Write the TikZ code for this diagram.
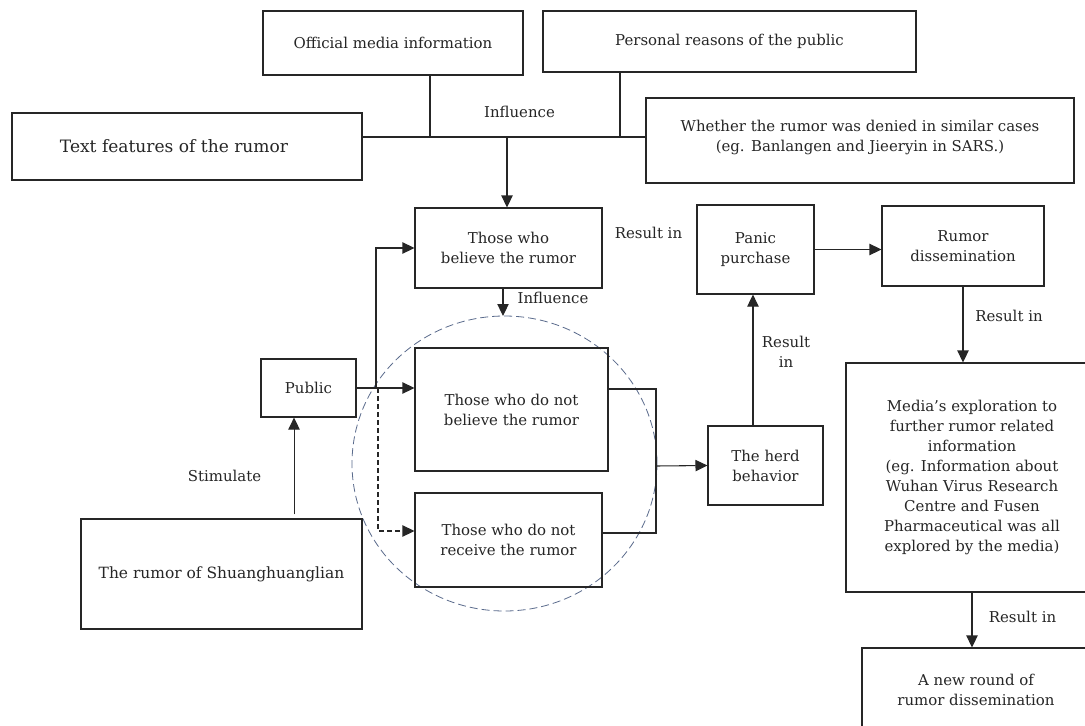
\documentclass[tikz,border=0pt]{standalone}
\usepackage{fontspec}
\setmainfont{DejaVu Serif}
\usetikzlibrary{arrows.meta,shapes.geometric}
\definecolor{lin}{HTML}{262626}
\definecolor{circ}{HTML}{5A6B8C}
\tikzset{
  box/.style 2 args={draw=lin, line width=0.8pt, rectangle, inner sep=0pt,
    minimum width=#1*0.75pt, minimum height=#2*0.75pt, align=center,
    font=\fontsize{11.2}{15}\selectfont, text=black!85},
  lbl/.style={inner sep=0pt, align=center, font=\fontsize{11.2}{15}\selectfont, text=black!85},
  conn/.style={draw=lin, line width=0.8pt},
  arr/.style={conn, -{Triangle[length=9pt,width=8.5pt]}},
  dasharr/.style={arr, dash pattern=on 3.5pt off 2.5pt},
  bigtext/.style={font=\fontsize{12.8}{15}\selectfont}
}
\begin{document}
\begin{tikzpicture}[x=0.75pt,y=-0.75pt]
\useasboundingbox (0,0) rectangle (1085,725);
\clip (0,0) rectangle (1085,725);
\fill[white] (0,0) rectangle (1085,725);

% dashed circle
\node[ellipse, draw=circ, line width=0.6pt, dash pattern=on 6pt off 3pt,
      minimum width=305*0.75pt, minimum height=295*0.75pt, inner sep=0pt] (cir) at (504.5,463.5) {};

% boxes
\node[box={260}{64}] (off) at (393,43) {Official media information};
\node[box={373}{61}] (pers) at (729.5,41.5) {Personal reasons of the public};
\node[box={350}{67}, bigtext] (tf) at (187,146.5) {Text features of the rumor\hspace*{19.5pt}};
\node[box={428}{85}] (wh) at (860,140.5) {Whether the rumor was denied in similar cases\\(eg. Banlangen and Jieeryin in SARS.)\\[-8.25pt]\mbox{}};
\node[box={187}{80}] (bel) at (508.5,248) {Those who\\believe the rumor};
\node[box={193}{123}] (nb) at (511.5,409.5) {Those who do not\\believe the rumor};
\node[box={187}{94}] (nr) at (508.5,540) {Those who do not\\receive the rumor};
\node[box={95}{58}] (pub) at (308.5,388) {Public};
\node[box={281}{110}, font=\fontsize{11.6}{15}\selectfont] (shu) at (221.5,574) {The rumor of Shuanghuanglian};
\node[box={117}{89}] (pan) at (755.5,249.5) {Panic\\purchase};
\node[box={162}{80}] (rd) at (963,246) {Rumor\\dissemination};
\node[box={115}{79}] (herd) at (765.5,465.5) {The herd\\behavior};
\node[box={252}{229}] (med) at (972,477.5) {Media’s exploration to\\further rumor related\\information\\(eg. Information about\\Wuhan Virus Research\\Centre and Fusen\\Pharmaceutical was all\\explored by the media)};
\node[box={228}{83}] (nrd) at (976,689.5) {A new round of\\rumor dissemination};

% labels
\node[lbl] (l1) at (519.5,112) {Influence};
\node[lbl] (l2) at (648.5,233) {Result in};
\node[lbl] (l3) at (553,298) {Influence};
\node[lbl] (l4) at (224.5,476) {Stimulate};
\node[lbl] (l5) at (786,352) {Result\\in};
\node[lbl] (l6) at (1009,316) {Result in};
\node[lbl] (l7) at (1022.5,617) {Result in};

% top bus
\coordinate (bus) at (507,137);
\coordinate (offj) at (430,137);
\coordinate (persj) at (620,137);
\draw[conn] (tf.east |- bus) -- (wh.west |- bus);
\draw[conn] (off.south -| offj) -- (offj);
\draw[conn] (pers.south -| persj) -- (persj);
\draw[arr] (bus) -- (bus |- bel.north);

% believe -> circle
\draw[arr] (bel.south -| 503,0) -- (503,316);

% public branches
\coordinate (br) at (376,388);
\coordinate (nrin) at (415,531);
\draw[arr] (pub.east) -- (pub.east -| nb.west);
\draw[arr] (br) -- (br |- bel.west) -- (bel.west);
\draw[dasharr] ([xshift=1.5pt]br) -- ([xshift=1.5pt]br |- nrin) -- (nr.west |- nrin);

% stimulate
\draw[arr] ([xshift=54.4pt,yshift=3pt]shu.north) -- ([xshift=54.4pt]shu.north |- pub.south);

% to herd
\coordinate (mj) at (656,466);
\draw[conn] ([yshift=15.4pt]nb.east) -| (mj) |- ([yshift=5.25pt]nr.east);
\draw[arr] (mj) -- (herd.west);

% right chain
\draw[arr] ([xshift=-9.4pt]herd.north) -- ([xshift=-9.4pt]herd.north |- pan.south);
\draw[arr] (pan.east) -- (pan.east -| rd.west);
\draw[arr] (rd.south) -- (rd.south |- med.north);
\draw[arr] (med.south) -- (med.south |- nrd.north);
\end{tikzpicture}
\end{document}
